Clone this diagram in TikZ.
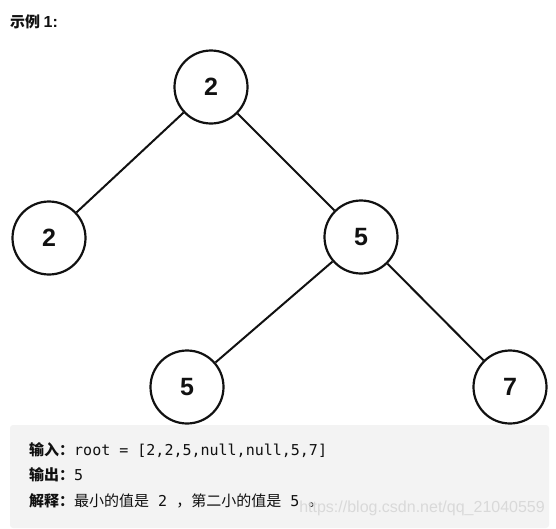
\documentclass[tikz,border=0pt]{standalone}
\usepackage{fontspec}
\setsansfont{Liberation Sans}
\setmonofont{DejaVu Sans Mono}
\newfontfamily\cjk{Noto Sans CJK SC}
\usetikzlibrary{positioning}
\definecolor{ink}{HTML}{111111}
\definecolor{panel}{HTML}{F3F3F3}
\definecolor{wmark}{HTML}{D9D9D9}
\tikzset{
  tnode/.style={circle,draw=ink,line width=2.2pt,minimum size=73pt,inner sep=0pt,
    text=ink,font=\sffamily\bfseries\fontsize{25}{25}\selectfont},
  link/.style={line width=2pt,draw=ink},
  txt/.style={anchor=west,inner sep=0pt,text=ink,font=\fontsize{15}{17}\selectfont},
}

\begin{document}
\begin{tikzpicture}[x=1pt,y=-1pt]
    \useasboundingbox (0,0) rectangle (556,528);
    % title
    \node[txt,font=\cjk\bfseries\fontsize{15}{17}\selectfont] (title) at (10,22)
      {示例 {\sffamily\bfseries\fontsize{16}{18}\selectfont 1:}};
    % tree
    \node[tnode] (root) at (211,87) {2};
    \node[tnode] (l)    at (49,238) {2};
    \node[tnode] (r)    at (361,237) {5};
    \node[tnode] (rl)   at (187,387) {5};
    \node[tnode] (rr)   at (510,387) {7};
    \draw[link] (root) -- (l);
    \draw[link] (root) -- (r);
    \draw[link] (r) -- (rl);
    \draw[link] (r) -- (rr);
    % example box
    \fill[panel,rounded corners=3pt] (10,425) rectangle (549,528);
    \node[txt] (inp) at (29,450)
      {{\cjk\bfseries 输入：}{\ttfamily root = [2,2,5,null,null,5,7]}};
    \node[txt] (outp) at (29,475)
      {{\cjk\bfseries 输出：}{\ttfamily 5}};
    \node[txt] (expl) at (29,501)
      {{\cjk\bfseries 解释：}{\cjk 最小的值是}{\ttfamily\ 2\ }{\cjk ，第二小的值是}{\ttfamily\ 5\ }{\cjk 。}};
    \node[anchor=east,inner sep=0pt,text=wmark,font=\sffamily\fontsize{16}{18}\selectfont]
      (wm) at (545,508) {https://blog.csdn.net/qq\_21040559};
  \end{tikzpicture}
\end{document}
